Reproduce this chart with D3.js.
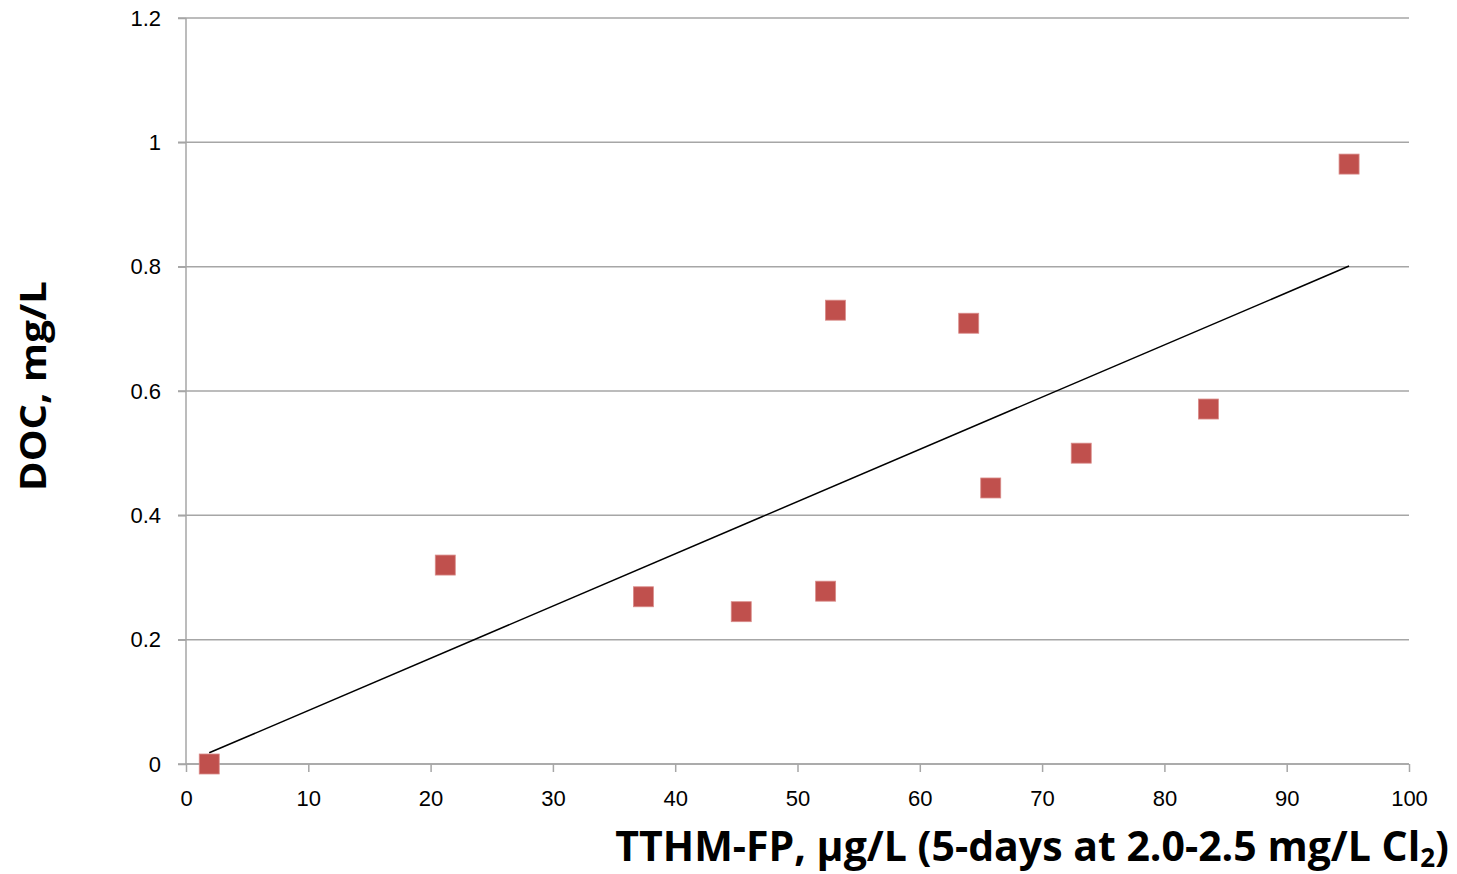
<!DOCTYPE html>
<html lang="en">
<head>
<meta charset="utf-8">
<title>DOC vs TTHM-FP</title>
<script src="https://d3js.org/d3.v7.min.js"></script>
<style>
  body { margin: 0; background: #fff; }
  svg { display: block; font-family: "Open Sans", "Liberation Sans", sans-serif; }
  .tick text { fill: #000; }
</style>
</head>
<body>
<svg id="chart" width="1457" height="874"></svg>
<script>
// measured values (TTHM-FP ug/L, DOC mg/L)
const tthm = [1.9, 21.2, 37.4, 45.4, 52.3, 53.1, 64.0, 65.8, 73.2, 83.6, 95.1];
const doc  = [0.0, 0.32, 0.269, 0.245, 0.278, 0.730, 0.709, 0.444, 0.500, 0.571, 0.965];
// linear trendline endpoints as drawn
const trendX = [1.9, 95.1];
const trendY = [0.018, 0.801];
const xTicks = [0, 10, 20, 30, 40, 50, 60, 70, 80, 90, 100];
const yTicks = [0, 0.2, 0.4, 0.6, 0.8, 1, 1.2];

const margin = { left: 186, right: 48, top: 18, bottom: 110 };
const width = 1457, height = 874;
const svg = d3.select("#chart");

const x = d3.scaleLinear().domain([0, 100]).range([margin.left, width - margin.right]);
const y = d3.scaleLinear().domain([0, 1.2]).range([height - margin.bottom, margin.top]);

// horizontal gridlines
svg.append("g")
  .selectAll("line")
  .data(yTicks)
  .join("line")
    .attr("x1", x(0) - 8)
    .attr("x2", x(100))
    .attr("y1", d => y(d))
    .attr("y2", d => y(d))
    .attr("stroke", "#a6a6a6")
    .attr("stroke-width", 1.5);

// y axis
const yAxis = svg.append("g")
  .attr("transform", `translate(${x(0)},0)`)
  .call(d3.axisLeft(y).tickValues(yTicks).tickSize(8).tickPadding(17).tickFormat(d3.format("~g")));
yAxis.selectAll("line, path").attr("stroke", "#a6a6a6").attr("stroke-width", 1.5);
yAxis.select(".domain").attr("d", `M0,${y(0)}V${y(1.2)}`);
yAxis.selectAll("text").attr("font-size", 22);

// x axis
const xAxis = svg.append("g")
  .attr("transform", `translate(0,${y(0)})`)
  .call(d3.axisBottom(x).tickValues(xTicks).tickSize(8).tickPadding(18));
xAxis.selectAll("line, path").attr("stroke", "#a6a6a6").attr("stroke-width", 1.5);
xAxis.select(".domain").attr("d", `M${x(0)},0H${x(100)}`);
xAxis.selectAll("text").attr("font-size", 22);

// trendline
svg.append("line")
  .attr("x1", x(trendX[0])).attr("y1", y(trendY[0]))
  .attr("x2", x(trendX[1])).attr("y2", y(trendY[1]))
  .attr("stroke", "#000").attr("stroke-width", 1.5);

// markers
const s = 20;
svg.append("g")
  .selectAll("rect")
  .data(tthm.map((v, i) => [v, doc[i]]))
  .join("rect")
    .attr("x", d => x(d[0]) - s / 2)
    .attr("y", d => y(d[1]) - s / 2)
    .attr("width", s)
    .attr("height", s)
    .attr("fill", "#c0504d")
    .attr("stroke", "#d98c8a")
    .attr("stroke-width", 0.8);

// axis titles
svg.append("text")
  .attr("transform", "translate(46,386) rotate(-90)")
  .attr("text-anchor", "middle")
  .attr("font-size", 36)
  .attr("font-weight", "bold")
  .attr("textLength", 210)
  .attr("lengthAdjust", "spacingAndGlyphs")
  .text("DOC, mg/L");

const xt = svg.append("text")
  .attr("x", 1449)
  .attr("y", 861)
  .attr("text-anchor", "end")
  .attr("font-size", 41)
  .attr("font-weight", "bold");
xt.append("tspan").text("TTHM-FP, \u03bcg/L (5-days at 2.0-2.5 mg/L Cl");
xt.append("tspan").attr("font-size", 26).attr("dy", 6).text("2");
xt.append("tspan").attr("dy", -6).text(")");
</script>
</body>
</html>
